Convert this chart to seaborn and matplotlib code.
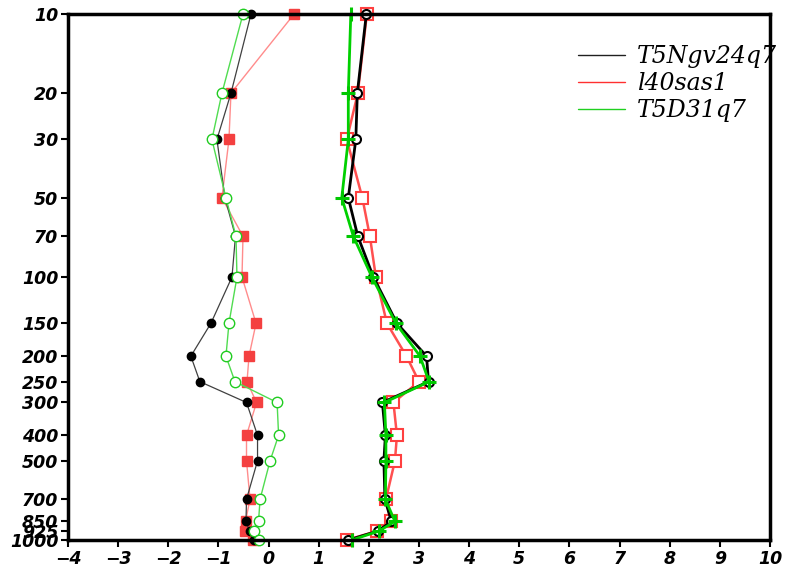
import matplotlib
matplotlib.use("Agg")
import matplotlib.pyplot as plt
from matplotlib.lines import Line2D
from matplotlib.ticker import FixedLocator, NullLocator
import numpy as np
import pandas as pd
import seaborn as sns

# Pressure levels (hPa)
levels = [10, 20, 30, 50, 70, 100, 150, 200, 250, 300, 400, 500, 700, 850, 925, 1000]

# Bias profiles
bias_T5Ngv24q7 = [-0.35, -0.75, -1.03, -0.87, -0.66, -0.73, -1.15, -1.55, -1.37, -0.44, -0.22, -0.22, -0.44, -0.45, -0.38, -0.30]
bias_l40sas1 = [0.51, -0.75, -0.79, -0.93, -0.51, -0.53, -0.25, -0.39, -0.43, -0.24, -0.44, -0.44, -0.37, -0.46, -0.47, -0.31]
bias_T5D31q7 = [-0.51, -0.93, -1.13, -0.85, -0.65, -0.63, -0.79, -0.85, -0.67, 0.17, 0.20, 0.03, -0.17, -0.20, -0.30, -0.20]

# RMSE profiles
rmse_T5Ngv24q7 = [1.95, 1.77, 1.74, 1.59, 1.78, 2.09, 2.56, 3.15, 3.19, 2.27, 2.33, 2.30, 2.32, 2.45, 2.18, 1.59]
rmse_l40sas1 = [1.96, 1.78, 1.56, 1.87, 2.02, 2.14, 2.36, 2.75, 3.00, 2.49, 2.56, 2.52, 2.34, 2.44, 2.16, 1.56]
rmse_T5D31q7 = [1.64, 1.59, 1.59, 1.46, 1.69, 2.06, 2.54, 3.02, 3.20, 2.31, 2.34, 2.34, 2.33, 2.52, 2.20, 1.66]

experiments = ["T5Ngv24q7", "l40sas1", "T5D31q7"]
x_ticks = [-4, -3, -2, -1, 0, 1, 2, 3, 4, 5, 6, 7, 8, 9, 10]

sns.set_theme(style="white")
plt.rcParams["font.family"] = ["DejaVu Sans"]

fig = plt.figure(figsize=(7.85, 5.67), dpi=100)
ax = fig.add_axes([68 / 785, 1 - 540 / 567, (770 - 68) / 785, (540 - 14) / 567])

# bias: thin lines; rmse: thick lines
styles = {
    ("bias", "T5Ngv24q7"): dict(color="#404040", lw=0.9, marker="o", ms=6, mfc="black", mec="black", mew=1),
    ("bias", "l40sas1"): dict(color="#ff8c8c", lw=1.0, marker="s", ms=7, mfc="#f44040", mec="#f44040", mew=1),
    ("bias", "T5D31q7"): dict(color="#50dc50", lw=1.0, marker="o", ms=7.5, mfc="white", mec="#20cc20", mew=1),
    ("rmse", "T5Ngv24q7"): dict(color="black", lw=2.0, marker="o", ms=6.5, mfc="white", mec="black", mew=1.5),
    ("rmse", "l40sas1"): dict(color="#ff5050", lw=1.8, marker="s", ms=9, mfc="white", mec="#ff4040", mew=1.5),
    ("rmse", "T5D31q7"): dict(color="#00d000", lw=2.0, marker="+", ms=10, mfc="none", mec="#00c800", mew=2.2),
}

series = {
    ("rmse", "l40sas1"): rmse_l40sas1,
    ("rmse", "T5Ngv24q7"): rmse_T5Ngv24q7,
    ("rmse", "T5D31q7"): rmse_T5D31q7,
    ("bias", "l40sas1"): bias_l40sas1,
    ("bias", "T5Ngv24q7"): bias_T5Ngv24q7,
    ("bias", "T5D31q7"): bias_T5D31q7,
}

for key, values in series.items():
    df = pd.DataFrame({"value": values, "level": levels})
    st = styles[key]
    sns.lineplot(
        data=df, x="value", y="level", ax=ax, orient="y", sort=False, estimator=None,
        color=st["color"], linewidth=st["lw"], marker=st["marker"], markersize=st["ms"],
        markerfacecolor=st["mfc"], markeredgecolor=st["mec"], markeredgewidth=st["mew"],
        clip_on=False, zorder=3,
    )

ax.set_yscale("log")
ax.set_ylim(1000, 10)
ax.set_xlim(-4, 10)
ax.yaxis.set_major_locator(FixedLocator(levels))
ax.yaxis.set_minor_locator(NullLocator())
ax.set_yticklabels([str(v) for v in levels])
ax.xaxis.set_major_locator(FixedLocator(x_ticks))
ax.set_xticklabels([str(v).replace("-", "\u2212") for v in x_ticks])
ax.set_xlabel("")
ax.set_ylabel("")

for lab in ax.get_xticklabels() + ax.get_yticklabels():
    lab.set_fontweight("bold")
    lab.set_fontstyle("italic")
    lab.set_fontsize(12.5)
    lab.set_color("black")

ax.tick_params(axis="both", which="major", direction="out", length=5, width=1.5,
               color="black", bottom=True, left=True, pad=2)
for sp in ax.spines.values():
    sp.set_visible(True)
    sp.set_color("black")
    sp.set_linewidth(2.5)
    sp.set_zorder(5)

handles = [
    Line2D([], [], color="#202020", lw=1.0),
    Line2D([], [], color="#ff3030", lw=1.0),
    Line2D([], [], color="#20d020", lw=1.0),
]
leg = fig.legend(handles, experiments, loc="upper left", bbox_to_anchor=(557 / 785, 1 - 24 / 567),
                 frameon=False, handlelength=2.0, handletextpad=0.47, labelspacing=0.16,
                 labelcolor="black",
                 prop={"family": "DejaVu Serif", "style": "italic", "size": 17})
leg.set_zorder(2)

fig.savefig("out.png", dpi=100)
